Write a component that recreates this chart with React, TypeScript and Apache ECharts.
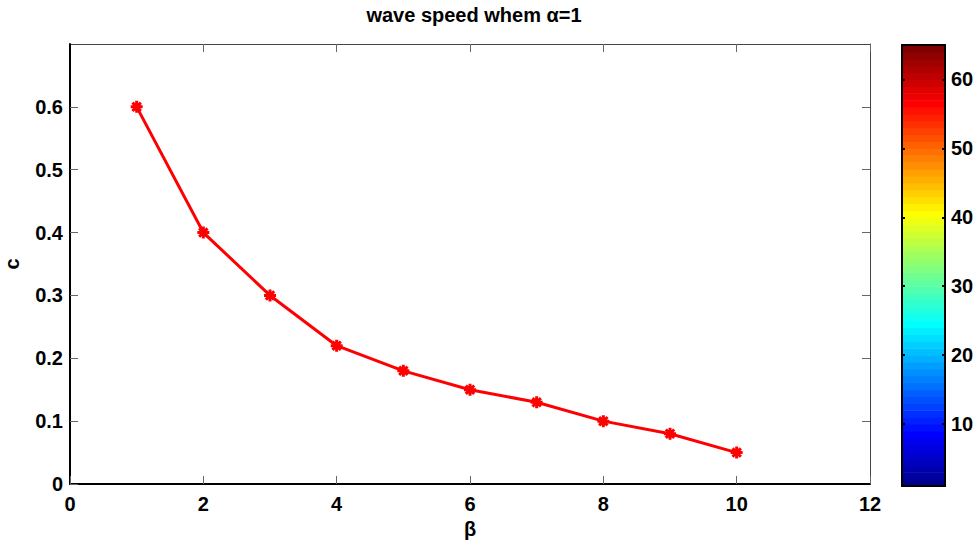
import React, { useEffect, useRef } from "react";
import * as echarts from "echarts";

const betaValues = [1, 2, 3, 4, 5, 6, 7, 8, 9, 10];
const speedValues = [0.6, 0.4, 0.3, 0.22, 0.18, 0.15, 0.13, 0.1, 0.08, 0.05];
const yTickValues = [0, 0.1, 0.2, 0.3, 0.4, 0.5, 0.6];
const colorbarTicks = [10, 20, 30, 40, 50, 60];
const titleText = "wave speed whem \u03b1=1";

// MATLAB jet(64) colormap
function jet(m: number): string[] {
  const n = Math.ceil(m / 4);
  const u: number[] = [];
  for (let i = 1; i <= n; i++) u.push(i / n);
  for (let i = 1; i < n; i++) u.push(1);
  for (let i = n; i >= 1; i--) u.push(i / n);
  const gStart = Math.ceil(n / 2) - (m % 4 === 1 ? 1 : 0);
  const J = Array.from({ length: m }, () => [0, 0, 0]);
  for (let k = 1; k <= u.length; k++) {
    const g = gStart + k;
    const r = g + n;
    const b = g - n;
    if (r >= 1 && r <= m) J[r - 1][0] = u[k - 1];
    if (g >= 1 && g <= m) J[g - 1][1] = u[k - 1];
    if (b >= 1 && b <= m) J[b - 1][2] = u[k - 1];
  }
  return J.map(
    ([r, g, b]) =>
      `rgb(${Math.round(r * 255)},${Math.round(g * 255)},${Math.round(b * 255)})`
  );
}

const jetColors = jet(64);

const FONT = "'Liberation Sans', Arial, Helvetica, sans-serif";
const labelStyle = { fontFamily: FONT, fontWeight: "bold" as const, fontSize: 20, color: "#000" };
const tickStyle = { color: "#666", width: 1 };

export default function App() {
  const ref = useRef<HTMLDivElement>(null);
  useEffect(() => {
    if (!ref.current) return;
    const chart = echarts.init(ref.current, undefined, { renderer: "svg" });
    const asterisk =
      "path://M5 0L5 10M0 5L10 5M1.5 1.5L8.5 8.5M8.5 1.5L1.5 8.5";
    chart.setOption({
      animation: false,
      backgroundColor: "#fff",
      title: {
        text: titleText,
        left: 469,
        top: 0,
        textAlign: "center",
        textStyle: { ...labelStyle, fontSize: 20 },
      },
      grid: [
        {
          left: 70,
          top: 44,
          width: 800,
          height: 440,
          containLabel: false,
          outerBoundsMode: "none",
        },
        {
          left: 902,
          top: 45,
          width: 43,
          height: 441,
          show: true,
          z: 10,
          containLabel: false,
          outerBoundsMode: "none",
          backgroundColor: "transparent",
          borderColor: "#000",
          borderWidth: 2,
        },
      ],
      xAxis: [
        {
          gridIndex: 0,
          type: "value",
          min: 0,
          max: 12,
          interval: 2,
          position: "bottom",
          axisLine: { show: true, onZero: false, lineStyle: { color: "#000", width: 2 } },
          axisTick: { show: true, inside: true, length: 8, lineStyle: tickStyle },
          axisLabel: { ...labelStyle, margin: 10 },
          splitLine: { show: false },
          name: "\u03b2",
          nameLocation: "middle",
          nameGap: 32,
          nameTextStyle: { ...labelStyle },
          z: 5,
        },
        {
          gridIndex: 0,
          type: "value",
          min: 0,
          max: 12,
          interval: 2,
          position: "top",
          axisLine: { show: true, onZero: false, lineStyle: { color: "#444", width: 1 } },
          axisTick: { show: true, inside: true, length: 8, lineStyle: tickStyle },
          axisLabel: { show: false },
          splitLine: { show: false },
        },
        {
          gridIndex: 1,
          type: "value",
          min: 0,
          max: 1,
          show: false,
        },
      ],
      yAxis: [
        {
          gridIndex: 0,
          type: "value",
          min: 0,
          max: 0.7,
          interval: 0.1,
          position: "left",
          axisLine: { show: true, onZero: false, lineStyle: { color: "#000", width: 2 } },
          axisTick: {
            show: true,
            inside: true,
            length: 8,
            customValues: yTickValues,
            lineStyle: tickStyle,
          },
          axisLabel: { ...labelStyle, margin: 7, customValues: yTickValues },
          splitLine: { show: false },
          name: "c",
          nameLocation: "middle",
          nameGap: 48,
          nameRotate: 90,
          nameTextStyle: { ...labelStyle },
          z: 5,
        },
        {
          gridIndex: 0,
          type: "value",
          min: 0,
          max: 0.7,
          interval: 0.1,
          position: "right",
          axisLine: { show: true, onZero: false, lineStyle: { color: "#444", width: 1 } },
          axisTick: {
            show: true,
            inside: true,
            length: 8,
            customValues: yTickValues,
            lineStyle: tickStyle,
          },
          axisLabel: { show: false },
          splitLine: { show: false },
        },
        {
          gridIndex: 1,
          type: "value",
          min: 1,
          max: 65,
          position: "right",
          axisLine: { show: false, onZero: false },
          axisTick: {
            show: true,
            inside: true,
            length: 3,
            customValues: colorbarTicks,
            lineStyle: { color: "#000", width: 2 },
          },
          axisLabel: { ...labelStyle, margin: 6, customValues: colorbarTicks },
          splitLine: { show: false },
          z: 12,
        },
        {
          gridIndex: 1,
          type: "value",
          min: 1,
          max: 65,
          position: "left",
          axisLine: { show: false, onZero: false },
          axisTick: {
            show: true,
            inside: true,
            length: 3,
            customValues: colorbarTicks,
            lineStyle: { color: "#000", width: 2 },
          },
          axisLabel: { show: false },
          splitLine: { show: false },
          z: 12,
        },
      ],
      series: [
        {
          type: "line",
          xAxisIndex: 0,
          yAxisIndex: 0,
          data: betaValues.map((b, i) => [b, speedValues[i]]),
          lineStyle: { color: "#ff0000", width: 3 },
          symbol: asterisk,
          symbolSize: 12,
          itemStyle: { color: "#ff0000", borderColor: "#ff0000", borderWidth: 3 },
          z: 3,
        },
        {
          type: "custom",
          xAxisIndex: 2,
          yAxisIndex: 2,
          data: jetColors.map((_, i) => [0, i + 1]),
          renderItem: (params: any, api: any) => {
            const i = params.dataIndex;
            const lo = api.coord([0, i + 1]);
            const hi = api.coord([1, i + 2]);
            return {
              type: "rect",
              shape: {
                x: lo[0],
                y: hi[1],
                width: hi[0] - lo[0],
                height: lo[1] - hi[1] + 0.6,
              },
              style: { fill: jetColors[i] },
            };
          },
          z: 1,
        },
      ],
    });
    return () => chart.dispose();
  }, []);
  return (
    <div
      ref={ref}
      style={{ position: "fixed", left: 0, top: 0, width: 976, height: 540 }}
    />
  );
}
